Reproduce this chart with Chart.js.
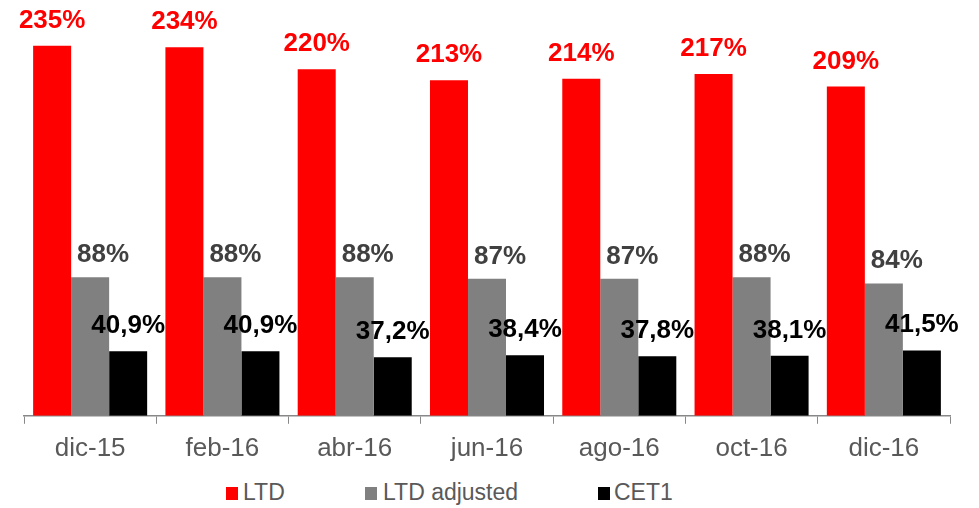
<!DOCTYPE html>
<html>
<head>
<meta charset="utf-8">
<script src="https://cdn.jsdelivr.net/npm/chart.js@4.4.0/dist/chart.umd.min.js"></script>
<style>
  body { margin: 0; background: #fff; }
  #wrap { position: absolute; left: 0; top: 0; width: 979px; height: 473px; }
  .lg-box { position: absolute; width: 12px; height: 13px; top: 487px; }
  .lg-text { position: absolute; top: 481px; font: 23px "Liberation Sans", Arial, sans-serif; line-height: 23px; color: #595959; white-space: nowrap; }
</style>
</head>
<body>
<div id="wrap"><canvas id="chart"></canvas></div>
<div id="legend"></div>
<script>
const categories = ["dic-15", "feb-16", "abr-16", "jun-16", "ago-16", "oct-16", "dic-16"];
const seriesNames = ["LTD", "LTD adjusted", "CET1"];
const ltd = [235, 234, 220, 213, 214, 217, 209];
const ltdAdjusted = [88, 88, 88, 87, 87, 88, 84];
const cet1 = [40.9, 40.9, 37.2, 38.4, 37.8, 38.1, 41.5];
const colors = ["#ff0000", "#808080", "#000000"];

// label look per series: colour, x shift, gap above bar, decimals
const labelStyle = [
  { color: "#ff0000", dx: 0, gap: 18, dec: 0 },
  { color: "#404040", dx: 13, gap: 15, dec: 0 },
  { color: "#000000", dx: 0, gap: 18, dec: 1 }
];

function fmt(v, dec) {
  return v.toFixed(dec).replace(".", ",") + "%";
}

const valueLabels = {
  id: "valueLabels",
  afterDatasetsDraw(chart) {
    const ctx = chart.ctx;
    ctx.save();
    ctx.font = "bold 26px 'Liberation Sans', Arial, sans-serif";
    ctx.textAlign = "center";
    ctx.textBaseline = "alphabetic";
    chart.data.datasets.forEach((ds, i) => {
      const st = labelStyle[i];
      ctx.fillStyle = st.color;
      chart.getDatasetMeta(i).data.forEach((bar, j) => {
        ctx.fillText(fmt(ds.data[j], st.dec), bar.x + st.dx, bar.y - st.gap);
      });
    });
    ctx.restore();
  }
};

const data = [ltd, ltdAdjusted, cet1];

new Chart(document.getElementById("chart"), {
  type: "bar",
  data: {
    labels: categories,
    datasets: seriesNames.map((name, i) => ({
      label: name,
      data: data[i],
      backgroundColor: colors[i],
      borderWidth: 0,
      barPercentage: 1,
      categoryPercentage: 0.862
    }))
  },
  options: {
    responsive: true,
    maintainAspectRatio: false,
    animation: false,
    layout: { padding: { left: 24, right: 29, top: 22, bottom: 0 } },
    plugins: {
      legend: { display: false },
      tooltip: { enabled: false }
    },
    scales: {
      x: {
        grid: { drawOnChartArea: false, drawTicks: true, tickLength: 8, color: "#888888" },
        border: { color: "#888888", width: 1.5 },
        ticks: {
          color: "#595959",
          padding: 9,
          font: { family: "'Liberation Sans', Arial, sans-serif", size: 26 }
        }
      },
      y: { display: false, min: 0, max: 250 }
    }
  },
  plugins: [valueLabels]
});

// legend below the chart
const legendPos = [[226, 243], [365, 383], [598, 614]];
const legend = document.getElementById("legend");
seriesNames.forEach((name, i) => {
  const box = document.createElement("span");
  box.className = "lg-box";
  box.style.left = legendPos[i][0] + "px";
  box.style.background = colors[i];
  const txt = document.createElement("span");
  txt.className = "lg-text";
  txt.style.left = legendPos[i][1] + "px";
  txt.textContent = name;
  legend.appendChild(box);
  legend.appendChild(txt);
});
</script>
</body>
</html>
